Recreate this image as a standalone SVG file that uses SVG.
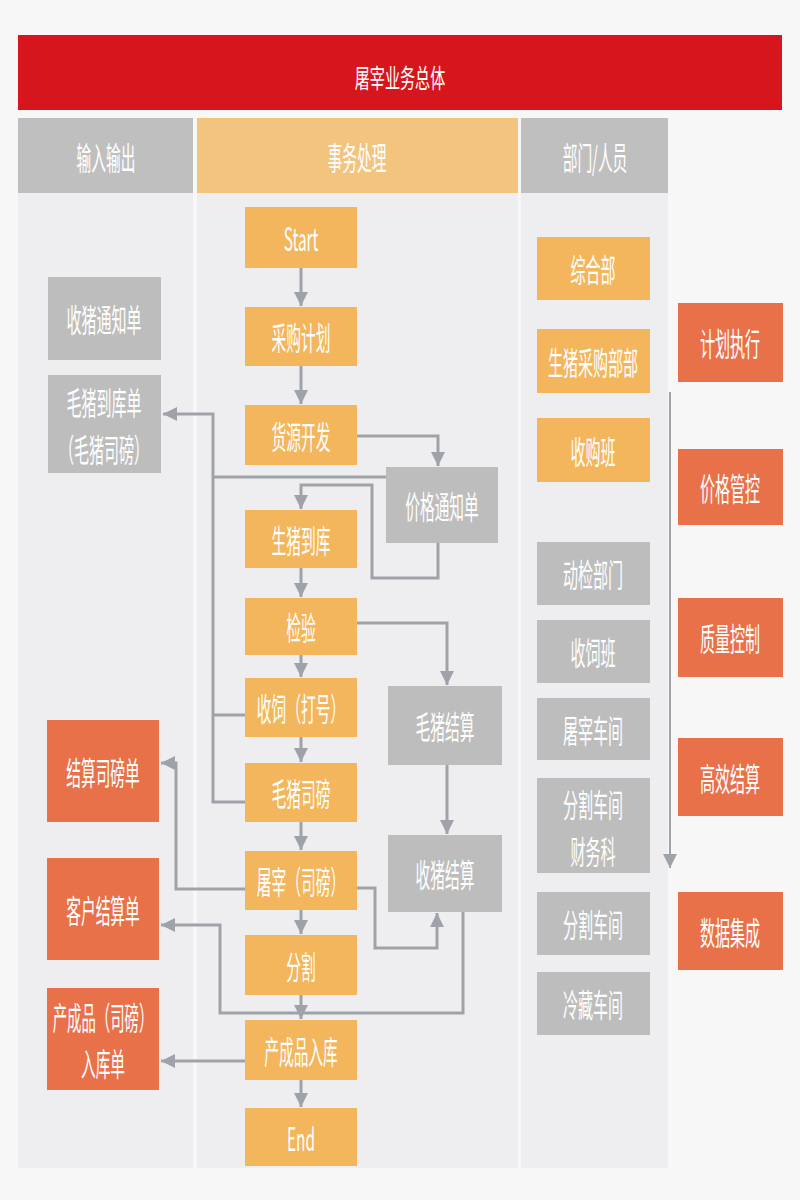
<svg xmlns="http://www.w3.org/2000/svg" width="800" height="1200" viewBox="0 0 800 1200">
<defs>
<style>
.t{font-family:"Noto Sans CJK SC","Noto Sans",sans-serif;fill:#ffffff;text-anchor:middle;dominant-baseline:central;font-size:32px}
.th{font-size:32px}
.tt{font-size:26px}
.or{fill:#f3b65c}
.gr{fill:#bdbdbd}
.rd{fill:#e8714a}
.c{fill:none;stroke:#9fa3a9;stroke-width:3}
.c2{fill:none;stroke:#9fa3a9;stroke-width:2}
</style>
<marker id="ah" markerUnits="userSpaceOnUse" markerWidth="16" markerHeight="14" refX="14" refY="7" orient="auto">
<path d="M0,0 L14,7 L0,14 Z" fill="#9fa3a9"/>
</marker>
</defs>
<rect x="0" y="0" width="800" height="1200" fill="#f7f7f7"/>
<g id="panels">
<rect x="18" y="193" width="175" height="975" fill="#eeeef0"/>
<rect x="197" y="193" width="321" height="975" fill="#eeeef0"/>
<rect x="521" y="193" width="147" height="975" fill="#eeeef0"/>
</g>
<g id="title">
<rect x="18" y="35" width="764" height="75" fill="#d6161c"/>
<text class="t tt" transform="translate(400 76) scale(0.58 1)">屠宰业务总体</text>
</g>
<g id="hdr-io">
<rect x="18" y="118" width="175" height="75" fill="#bfbfbf"/>
<text class="t th" transform="translate(106 156) scale(0.46 1)">输入输出</text>
</g>
<g id="hdr-tx">
<rect x="197" y="118" width="321" height="75" fill="#f3c47e"/>
<text class="t th" transform="translate(357 156) scale(0.46 1)">事务处理</text>
</g>
<g id="hdr-dp">
<rect x="521" y="118" width="147" height="75" fill="#bfbfbf"/>
<text class="t th" transform="translate(595 156) scale(0.46 1)">部门/人员</text>
</g>

<g id="connectors">
<line class="c" x1="301" y1="268" x2="301" y2="306" marker-end="url(#ah)"/>
<line class="c" x1="301" y1="366" x2="301" y2="404" marker-end="url(#ah)"/>
<line class="c" x1="301" y1="568" x2="301" y2="597" marker-end="url(#ah)"/>
<line class="c" x1="301" y1="655" x2="301" y2="677" marker-end="url(#ah)"/>
<line class="c" x1="301" y1="737" x2="301" y2="762" marker-end="url(#ah)"/>
<line class="c" x1="301" y1="822" x2="301" y2="850" marker-end="url(#ah)"/>
<line class="c" x1="301" y1="910" x2="301" y2="934" marker-end="url(#ah)"/>
<line class="c" x1="301" y1="995" x2="301" y2="1019" marker-end="url(#ah)"/>
<line class="c" x1="301" y1="1080" x2="301" y2="1107" marker-end="url(#ah)"/>
<path class="c" d="M357,436 H438 V466" marker-end="url(#ah)"/>
<path class="c" d="M386,477 H213"/>
<path class="c" d="M245,715 H213"/>
<path class="c" d="M245,802 H213 V414 H163" marker-end="url(#ah)"/>
<path class="c" d="M438,543 V578 H372 V485 H301 V509" marker-end="url(#ah)"/>
<path class="c" d="M357,623 H447 V685" marker-end="url(#ah)"/>
<path class="c" d="M447,765 V834" marker-end="url(#ah)"/>
<path class="c" d="M357,888 H375 V948 H437 V913" marker-end="url(#ah)"/>
<path class="c" d="M463,912 V1013 H220 V925 H161" marker-end="url(#ah)"/>
<path class="c" d="M245,889 H176 V763 H161" marker-end="url(#ah)"/>
<path class="c" d="M245,1061 H161" marker-end="url(#ah)"/>
<path class="c2" d="M670,392 V868" marker-end="url(#ah)"/>
</g>

<g id="n-start"><rect class="or" x="245" y="207" width="112" height="61"/><text class="t" transform="translate(301 237) scale(0.48 1)">Start</text></g>
<g id="n-cgjh"><rect class="or" x="245" y="307" width="112" height="59"/><text class="t" transform="translate(301 336) scale(0.46 1)">采购计划</text></g>
<g id="n-hykf"><rect class="or" x="245" y="405" width="112" height="60"/><text class="t" transform="translate(301 435) scale(0.46 1)">货源开发</text></g>
<g id="n-szdk"><rect class="or" x="245" y="510" width="112" height="58"/><text class="t" transform="translate(301 539) scale(0.46 1)">生猪到库</text></g>
<g id="n-jy"><rect class="or" x="245" y="598" width="112" height="57"/><text class="t" transform="translate(301 626) scale(0.46 1)">检验</text></g>
<g id="n-ss"><rect class="or" x="245" y="678" width="112" height="59"/><text class="t" transform="translate(301 707) scale(0.46 1)">收饲（打号）</text></g>
<g id="n-mzsb"><rect class="or" x="245" y="763" width="112" height="59"/><text class="t" transform="translate(301 792) scale(0.46 1)">毛猪司磅</text></g>
<g id="n-tz"><rect class="or" x="245" y="851" width="112" height="59"/><text class="t" transform="translate(301 880) scale(0.46 1)">屠宰（司磅）</text></g>
<g id="n-fg"><rect class="or" x="245" y="935" width="112" height="60"/><text class="t" transform="translate(301 965) scale(0.46 1)">分割</text></g>
<g id="n-ccprk"><rect class="or" x="245" y="1020" width="112" height="60"/><text class="t" transform="translate(301 1050) scale(0.46 1)">产成品入库</text></g>
<g id="n-end"><rect class="or" x="245" y="1108" width="112" height="58"/><text class="t" transform="translate(301 1137) scale(0.48 1)">End</text></g>

<g id="n-jgtzd"><rect class="gr" x="386" y="467" width="112" height="76"/><text class="t" transform="translate(442 505) scale(0.46 1)">价格通知单</text></g>
<g id="n-mzjs"><rect class="gr" x="388" y="686" width="114" height="79"/><text class="t" transform="translate(445 725) scale(0.46 1)">毛猪结算</text></g>
<g id="n-szjs"><rect class="gr" x="388" y="835" width="114" height="77"/><text class="t" transform="translate(445 873) scale(0.46 1)">收猪结算</text></g>

<g id="n-sztzd"><rect class="gr" x="48" y="277" width="113" height="83"/><text class="t" transform="translate(104 318) scale(0.47 1)">收猪通知单</text></g>
<g id="n-mzdkd"><rect class="gr" x="48" y="375" width="113" height="98"/><text class="t" transform="translate(104 401) scale(0.47 1)">毛猪到库单</text><text class="t" transform="translate(104 448) scale(0.47 1)">（毛猪司磅）</text></g>
<g id="n-jssbd"><rect class="rd" x="47" y="720" width="112" height="102"/><text class="t" transform="translate(103 771) scale(0.46 1)">结算司磅单</text></g>
<g id="n-khjsd"><rect class="rd" x="47" y="858" width="112" height="102"/><text class="t" transform="translate(103 909) scale(0.46 1)">客户结算单</text></g>
<g id="n-ccprkd"><rect class="rd" x="47" y="988" width="112" height="102"/><text class="t" transform="translate(103 1016) scale(0.45 1)">产成品（司磅）</text><text class="t" transform="translate(103 1062) scale(0.46 1)">入库单</text></g>

<g id="d-zhb"><rect class="or" x="537" y="237" width="113" height="63"/><text class="t" transform="translate(593 268) scale(0.47 1)">综合部</text></g>
<g id="d-szcgb"><rect class="or" x="537" y="329" width="113" height="64"/><text class="t" transform="translate(593 361) scale(0.47 1)">生猪采购部部</text></g>
<g id="d-sgb"><rect class="or" x="537" y="418" width="113" height="64"/><text class="t" transform="translate(593 450) scale(0.47 1)">收购班</text></g>
<g id="d-djbm"><rect class="gr" x="537" y="542" width="113" height="63"/><text class="t" transform="translate(593 573) scale(0.47 1)">动检部门</text></g>
<g id="d-ssb"><rect class="gr" x="537" y="620" width="113" height="63"/><text class="t" transform="translate(593 651) scale(0.47 1)">收饲班</text></g>
<g id="d-tzcj"><rect class="gr" x="537" y="698" width="113" height="62"/><text class="t" transform="translate(593 729) scale(0.47 1)">屠宰车间</text></g>
<g id="d-fgcjcwk"><rect class="gr" x="537" y="778" width="113" height="95"/><text class="t" transform="translate(593 803) scale(0.47 1)">分割车间</text><text class="t" transform="translate(593 850) scale(0.47 1)">财务科</text></g>
<g id="d-fgcj"><rect class="gr" x="537" y="892" width="113" height="63"/><text class="t" transform="translate(593 923) scale(0.47 1)">分割车间</text></g>
<g id="d-lccj"><rect class="gr" x="537" y="972" width="113" height="63"/><text class="t" transform="translate(593 1003) scale(0.47 1)">冷藏车间</text></g>

<g id="r-jhzx"><rect class="rd" x="678" y="303" width="105" height="79"/><text class="t" transform="translate(730 342) scale(0.47 1)">计划执行</text></g>
<g id="r-jggk"><rect class="rd" x="678" y="449" width="105" height="76"/><text class="t" transform="translate(730 487) scale(0.47 1)">价格管控</text></g>
<g id="r-zlkz"><rect class="rd" x="678" y="598" width="105" height="79"/><text class="t" transform="translate(730 637) scale(0.47 1)">质量控制</text></g>
<g id="r-gxjs"><rect class="rd" x="678" y="738" width="105" height="78"/><text class="t" transform="translate(730 777) scale(0.47 1)">高效结算</text></g>
<g id="r-sjjc"><rect class="rd" x="678" y="892" width="105" height="78"/><text class="t" transform="translate(730 931) scale(0.47 1)">数据集成</text></g>
</svg>
